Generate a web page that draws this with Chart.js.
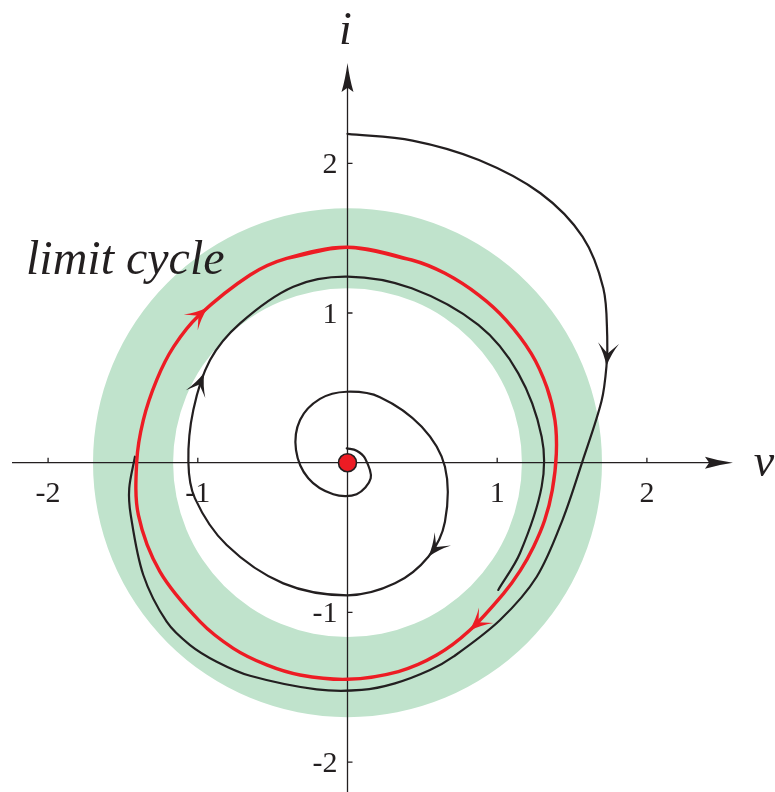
<!DOCTYPE html>
<html>
<head>
<meta charset="utf-8">
<script src="https://cdn.jsdelivr.net/npm/chart.js@4/dist/chart.umd.min.js"></script>
<style>
  html, body { margin: 0; padding: 0; background: #ffffff; }
  canvas { display: block; }
</style>
</head>
<body>
<canvas id="phase" width="775" height="792"></canvas>
<script>
// ---- axis ticks ----
const tickValues = [-2, -1, 1, 2];
const tickLabels = ['-2', '-1', '1', '2'];
const axisTitleV = 'v';
const axisTitleI = 'i';
const cycleLabel = 'limit cycle';

// ---- trapping annulus (radii in v/i units) ----
const regionInner = 1.165;
const regionOuter = 1.70;

// ---- equilibrium at the origin ----
const equilibriumV = [0];
const equilibriumI = [0];

// ---- limit cycle, clockwise from the top ----
const limitCycleV = [0.000, 0.429, 0.651, 0.879, 1.059, 1.228, 1.332, 1.386, 1.395, 1.368,
  1.317, 1.243, 1.155, 1.042, 0.813, 0.596, 0.340, 0.000, -0.317, -0.540,
  -0.763, -0.985, -1.253, -1.397, -1.408, -1.364, -1.275, -1.161, -0.993, -0.651,
  -0.406];
const limitCycleI = [1.439, 1.354, 1.265, 1.118, 0.953, 0.729, 0.503, 0.282, 0.061, -0.183,
  -0.385, -0.561, -0.719, -0.874, -1.123, -1.285, -1.395, -1.447, -1.418, -1.351,
  -1.240, -1.062, -0.728, -0.349, 0.007, 0.285, 0.552, 0.775, 0.983, 1.254,
  1.365];
// arrow markers: segment index along the curve and position within it
const limitCycleArrows = [{ seg: 14, t: 0 }, { seg: 28, t: 0.19 }];

// ---- trajectory entering from outside (starts on the i axis) ----
const outerV = [0.000, 0.434, 0.878, 1.289, 1.570, 1.709, 1.735, 1.730, 1.697, 1.570,
  1.436, 1.264, 1.019, 0.707, 0.551, 0.317, 0.095, -0.206, -0.651, -0.874,
  -1.052, -1.208, -1.364, -1.448, -1.458, -1.420];
const outerI = [2.196, 2.152, 2.022, 1.800, 1.510, 1.165, 0.842, 0.646, 0.412, 0.011,
  -0.383, -0.762, -1.051, -1.296, -1.385, -1.474, -1.518, -1.514, -1.423, -1.329,
  -1.218, -1.062, -0.750, -0.349, -0.171, 0.040];
const outerArrows = [{ seg: 7, t: 0 }];

// ---- trajectory spiralling out from near the origin ----
const innerV = [-0.005, 0.061, 0.117, 0.155, 0.061, -0.095, -0.262, -0.344, -0.317, -0.184,
  -0.005, 0.217, 0.496, 0.651, 0.651, 0.540, 0.317, 0.000, -0.429, -0.807,
  -1.019, -1.063, -1.030, -0.918, -0.718, -0.362, 0.000, 0.429, 0.874, 1.141,
  1.297, 1.297, 1.152, 1.007];
const innerI = [0.096, 0.080, 0.029, -0.104, -0.211, -0.211, -0.104, 0.085, 0.285, 0.426,
  0.474, 0.438, 0.240, -0.027, -0.394, -0.628, -0.806, -0.886, -0.806, -0.550,
  -0.238, 0.007, 0.352, 0.686, 0.931, 1.176, 1.243, 1.165, 0.920, 0.597,
  0.174, -0.160, -0.605, -0.850];
const innerArrows = [{ seg: 15, t: 0 }, { seg: 22, t: 0.73 }];

// ---- visible axis extents ----
const axisSpanV = [-2.241, 2.575];
const axisSpanI = [-2.25, 2.67];

// ---- colours ----
const INK = '#231f20';
const RED = '#ed1c24';
const GREEN = '#c0e3cc';
const SERIF = '"Liberation Serif", "Times New Roman", serif';

const zip = (vs, is) => vs.map((v, k) => ({ x: v, y: is[k] }));

// closed loop: wrap one point at each end so the spline joins smoothly
const cyclePts = zip(limitCycleV, limitCycleI);
const cycleLoop = [cyclePts[cyclePts.length - 1], ...cyclePts, cyclePts[0], cyclePts[1]];

// stealth-style arrowhead with its tip at (x, y), pointing along (dx, dy)
function arrowHead(ctx, x, y, dx, dy, len, halfW, notch, color) {
  const n = Math.hypot(dx, dy) || 1;
  const ux = dx / n, uy = dy / n;
  const px = -uy, py = ux;
  const bx = x - ux * len, by = y - uy * len;
  const nx = x - ux * len * notch, ny = y - uy * len * notch;
  ctx.beginPath();
  ctx.moveTo(x, y);
  ctx.quadraticCurveTo(x - ux * len * 0.55 + px * halfW * 0.35, y - uy * len * 0.55 + py * halfW * 0.35,
    bx + px * halfW, by + py * halfW);
  ctx.lineTo(nx, ny);
  ctx.lineTo(bx - px * halfW, by - py * halfW);
  ctx.quadraticCurveTo(x - ux * len * 0.55 - px * halfW * 0.35, y - uy * len * 0.55 - py * halfW * 0.35,
    x, y);
  ctx.closePath();
  ctx.fillStyle = color;
  ctx.fill();
}

// point and tangent on the drawn spline between elements p0 and p1
function splineAt(p0, p1, t) {
  const c1x = p0.cp2x ?? p0.x, c1y = p0.cp2y ?? p0.y;
  const c2x = p1.cp1x ?? p1.x, c2y = p1.cp1y ?? p1.y;
  const m = 1 - t;
  const x = m * m * m * p0.x + 3 * m * m * t * c1x + 3 * m * t * t * c2x + t * t * t * p1.x;
  const y = m * m * m * p0.y + 3 * m * m * t * c1y + 3 * m * t * t * c2y + t * t * t * p1.y;
  let dx = 3 * m * m * (c1x - p0.x) + 6 * m * t * (c2x - c1x) + 3 * t * t * (p1.x - c2x);
  let dy = 3 * m * m * (c1y - p0.y) + 6 * m * t * (c2y - c1y) + 3 * t * t * (p1.y - c2y);
  if (Math.hypot(dx, dy) < 1e-6) { dx = p1.x - p0.x; dy = p1.y - p0.y; }
  return { x, y, dx, dy };
}

const backdrop = {
  id: 'backdrop',
  beforeDatasetsDraw(chart) {
    const { ctx } = chart;
    const xs = chart.scales.x, ys = chart.scales.y;
    const cx = xs.getPixelForValue(0), cy = ys.getPixelForValue(0);
    const rOut = xs.getPixelForValue(regionOuter) - cx;
    const rIn = xs.getPixelForValue(regionInner) - cx;
    ctx.save();
    // annulus
    ctx.beginPath();
    ctx.arc(cx, cy, rOut, 0, Math.PI * 2, false);
    ctx.arc(cx, cy, rIn, 0, Math.PI * 2, true);
    ctx.fillStyle = GREEN;
    ctx.fill();

    // axes through the origin
    ctx.strokeStyle = INK;
    ctx.lineWidth = 1.3;
    const xL = xs.getPixelForValue(axisSpanV[0]);
    const xR = xs.getPixelForValue(axisSpanV[1]);
    const yB = ys.getPixelForValue(axisSpanI[0]);
    const yT = ys.getPixelForValue(axisSpanI[1]);
    ctx.beginPath();
    ctx.moveTo(xL, cy); ctx.lineTo(xR - 20, cy);
    ctx.moveTo(cx, yB); ctx.lineTo(cx, yT + 20);
    ctx.stroke();
    arrowHead(ctx, xR, cy, 1, 0, 28, 6, 0.85, INK);
    arrowHead(ctx, cx, yT, 0, -1, 29, 6, 0.85, INK);

    // tick marks
    ctx.beginPath();
    tickValues.forEach(t => {
      const px = xs.getPixelForValue(t);
      ctx.moveTo(px, cy); ctx.lineTo(px, cy - 5);
      const py = ys.getPixelForValue(t);
      ctx.moveTo(cx, py); ctx.lineTo(cx + 5, py);
    });
    ctx.stroke();
    ctx.restore();
  },
  afterDatasetsDraw(chart) {
    const { ctx } = chart;
    const xs = chart.scales.x, ys = chart.scales.y;
    const cx = xs.getPixelForValue(0), cy = ys.getPixelForValue(0);
    ctx.save();

    // arrowheads along the trajectories
    const heads = [
      { ds: 1, marks: limitCycleArrows, offset: 1, color: RED },
      { ds: 2, marks: outerArrows, offset: 0, color: INK },
      { ds: 3, marks: innerArrows, offset: 0, color: INK }
    ];
    heads.forEach(h => {
      const pts = chart.getDatasetMeta(h.ds).data;
      h.marks.forEach(m => {
        const k = m.seg + h.offset;
        const s = splineAt(pts[k], pts[k + 1], m.t);
        arrowHead(ctx, s.x, s.y, s.dx, s.dy, 23, 10.5, 0.55, h.color);
      });
    });

    // tick labels
    ctx.fillStyle = INK;
    ctx.font = '30px ' + SERIF;
    ctx.textBaseline = 'alphabetic';
    ctx.textAlign = 'center';
    tickValues.forEach((t, k) => {
      ctx.fillText(tickLabels[k], xs.getPixelForValue(t), cy + 39);
    });
    ctx.textAlign = 'right';
    tickValues.forEach((t, k) => {
      ctx.fillText(tickLabels[k], cx - 10, ys.getPixelForValue(t) + 10);
    });

    // axis titles
    ctx.font = 'italic 46px ' + SERIF;
    ctx.textAlign = 'center';
    ctx.fillText(axisTitleV, xs.getPixelForValue(axisSpanV[1]) + 31, cy + 13);
    ctx.fillText(axisTitleI, cx - 2, ys.getPixelForValue(axisSpanI[1]) - 19);

    // annotation
    ctx.font = 'italic 48px ' + SERIF;
    ctx.textAlign = 'left';
    ctx.fillText(cycleLabel, 26, ys.getPixelForValue(1.263));
    ctx.restore();
  }
};

new Chart(document.getElementById('phase'), {
  type: 'scatter',
  data: {
    datasets: [
      {
        label: 'equilibrium',
        data: zip(equilibriumV, equilibriumI),
        pointRadius: 9,
        pointBackgroundColor: RED,
        pointBorderColor: INK,
        pointBorderWidth: 1.6,
        order: 0
      },
      {
        label: 'limit cycle',
        data: cycleLoop,
        showLine: true,
        borderColor: RED,
        borderWidth: 3.4,
        pointRadius: 0,
        tension: 0.33,
        order: 1
      },
      {
        label: 'outer trajectory',
        data: zip(outerV, outerI),
        showLine: true,
        borderColor: INK,
        borderWidth: 2.2,
        borderCapStyle: 'round',
        pointRadius: 0,
        tension: 0.33,
        order: 2
      },
      {
        label: 'inner trajectory',
        data: zip(innerV, innerI),
        showLine: true,
        borderColor: INK,
        borderWidth: 2.2,
        borderCapStyle: 'round',
        pointRadius: 0,
        tension: 0.33,
        order: 3
      }
    ]
  },
  options: {
    responsive: false,
    animation: false,
    events: [],
    devicePixelRatio: 1,
    layout: { padding: 0, autoPadding: false },
    plugins: { legend: { display: false }, tooltip: { enabled: false }, title: { display: false } },
    scales: {
      x: { type: 'linear', min: -2.3213, max: 2.8557, display: false },
      y: { type: 'linear', min: -2.1997, max: 3.0909, display: false }
    }
  },
  plugins: [backdrop]
});
</script>
</body>
</html>
